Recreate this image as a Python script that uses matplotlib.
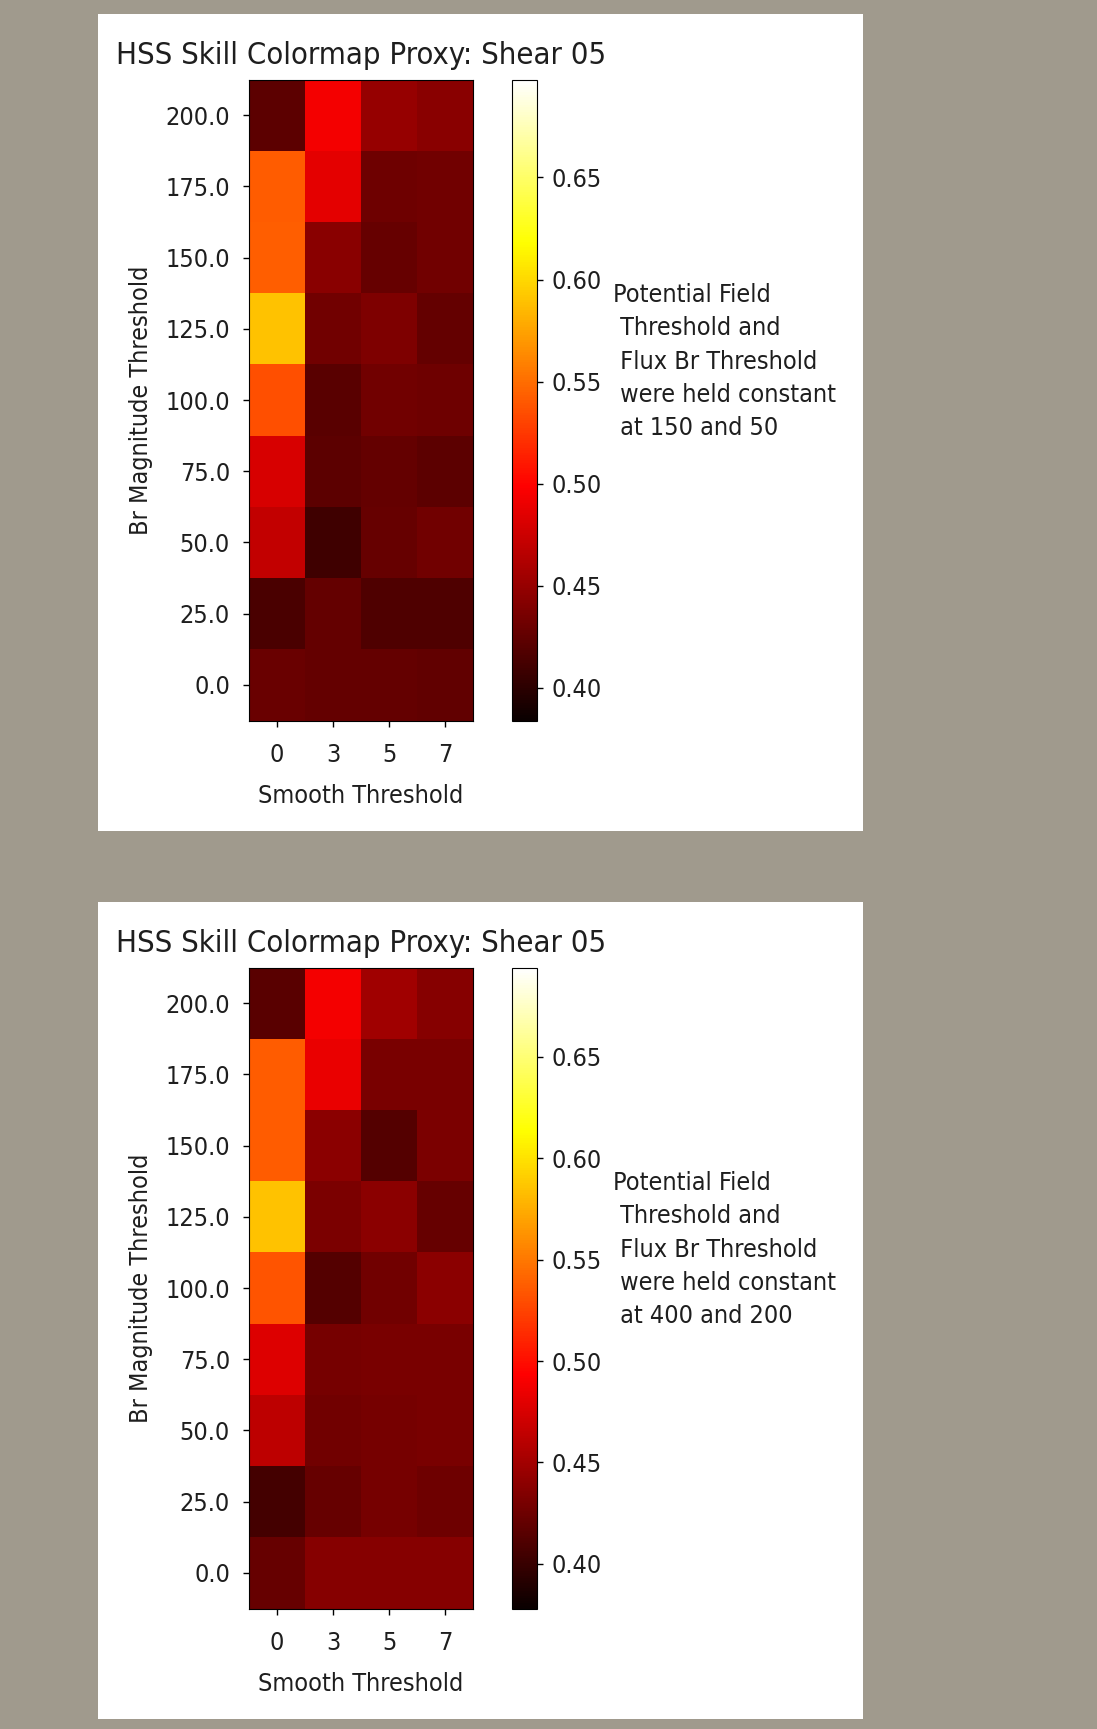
import os
import numpy as np
import matplotlib
matplotlib.use("Agg")
import matplotlib.pyplot as plt
from matplotlib import font_manager as fm
from matplotlib.patches import Rectangle

# ---- data ----
smooth_thresholds = [0, 3, 5, 7]
br_thresholds = [0.0, 25.0, 50.0, 75.0, 100.0, 125.0, 150.0, 175.0, 200.0]

# HSS skill, one row per Br magnitude threshold (first row = 0.0), one column per smooth threshold
hss_pf150_flux50 = [
    [0.429, 0.426, 0.426, 0.425],
    [0.414, 0.426, 0.417, 0.416],
    [0.471, 0.409, 0.428, 0.432],
    [0.480, 0.423, 0.426, 0.423],
    [0.536, 0.421, 0.432, 0.431],
    [0.590, 0.432, 0.438, 0.426],
    [0.543, 0.443, 0.428, 0.432],
    [0.541, 0.487, 0.431, 0.432],
    [0.423, 0.494, 0.450, 0.443],
]
hss_pf400_flux200 = [
    [0.422, 0.437, 0.437, 0.437],
    [0.406, 0.422, 0.429, 0.425],
    [0.463, 0.427, 0.429, 0.431],
    [0.477, 0.429, 0.430, 0.430],
    [0.533, 0.413, 0.427, 0.439],
    [0.585, 0.432, 0.439, 0.422],
    [0.536, 0.439, 0.413, 0.432],
    [0.536, 0.484, 0.430, 0.430],
    [0.416, 0.489, 0.449, 0.437],
]
color_limits_1 = (0.384, 0.698)
color_limits_2 = (0.378, 0.694)
cbar_ticks = [0.40, 0.45, 0.50, 0.55, 0.60, 0.65]
held_values = ["150 and 50", "400 and 200"]
title = "HSS Skill Colormap Proxy: Shear 05"

# ---- font: the screenshot is squeezed sideways, so prefer a condensed face ----
def pick_font():
    for fam, st in [("DejaVu Sans Condensed", "normal"), ("DejaVu Sans", "condensed")]:
        try:
            p = fm.findfont(fm.FontProperties(family=fam, stretch=st), fallback_to_default=False)
        except Exception:
            continue
        if "condensed" in os.path.basename(p).lower():
            return fam, st, 0.9
    return "DejaVu Sans", "normal", 1.0 / 1.05

font_family, font_stretch, width_factor = pick_font()
plt.rcParams["font.family"] = font_family
plt.rcParams["font.stretch"] = font_stretch

base_px = 22.6 / width_factor
title_px = 27.8 / width_factor
PT = 0.72  # points per pixel at dpi 100
text_color = "#1e1e1e"

W, H = 1097, 1729
fig = plt.figure(figsize=(W / 100, H / 100), dpi=100, facecolor="#a09a8d")


def box(left, top, right, bottom):
    return [left / W, 1 - bottom / H, (right - left) / W, (bottom - top) / H]


panels = [(hss_pf150_flux50, color_limits_1, held_values[0]),
          (hss_pf400_flux200, color_limits_2, held_values[1])]

x_edges = np.arange(len(smooth_thresholds) + 1) - 0.5
y_edges = np.arange(len(br_thresholds) + 1) - 0.5

for i, (grid, (lo, hi), held) in enumerate(panels):
    dy = i * 888
    # white figure background of each screenshot
    fig.patches.append(Rectangle((98 / W, 1 - (831 + dy) / H), (863 - 98) / W, 817 / H,
                                 transform=fig.transFigure, facecolor="white",
                                 edgecolor="none", zorder=-1))

    ax = fig.add_axes(box(249, 79.5 + dy, 473, 720.5 + dy))
    mesh = ax.pcolormesh(x_edges, y_edges, np.array(grid), cmap="hot", vmin=lo, vmax=hi,
                         shading="flat")
    ax.set_xlim(x_edges[0], x_edges[-1])
    ax.set_ylim(y_edges[0], y_edges[-1])
    ax.set_xticks(range(len(smooth_thresholds)), [str(s) for s in smooth_thresholds])
    ax.set_yticks(range(len(br_thresholds)), [f"{b:.1f}" for b in br_thresholds])
    ax.tick_params(axis="y", length=6 * PT, width=1.0, pad=9.4, labelsize=base_px * PT,
                   labelcolor=text_color)
    ax.tick_params(axis="x", length=6 * PT, width=1.0, pad=12.0, labelsize=base_px * PT,
                   labelcolor=text_color)
    ax.set_title(title, fontsize=title_px * PT, pad=10.9, color=text_color)
    ax.set_xlabel("Smooth Threshold", fontsize=base_px * PT, va="center", color=text_color)
    ax.xaxis.set_label_coords(0.5, (720.5 - 796) / 641)
    ax.set_ylabel("Br Magnitude Threshold", fontsize=base_px * PT, va="center", color=text_color)
    ax.yaxis.set_label_coords((141 - 249) / 224, 0.5)

    cax = fig.add_axes(box(512, 79.5 + dy, 537, 720.5 + dy))
    cb = fig.colorbar(mesh, cax=cax, ticks=cbar_ticks)
    cb.ax.set_yticklabels([f"{t:.2f}" for t in cbar_ticks])
    cb.ax.tick_params(length=6 * PT, width=1.0, pad=6.1, labelsize=base_px * PT,
                      labelcolor=text_color)

    # side note; baseline of first line near y=302, baselines 33.7 px apart
    ls = (33.7 / base_px - 0.208) / 0.76
    note = ("Potential Field\n Threshold and\n Flux Br Threshold\n"
            " were held constant\n at " + held)
    fig.text(613 / W, 1 - (302 - 0.76 * base_px + dy) / H, note, ha="left", va="top",
             fontsize=base_px * PT, linespacing=ls, color=text_color)

fig.savefig("out.png", dpi=100, facecolor=fig.get_facecolor())
